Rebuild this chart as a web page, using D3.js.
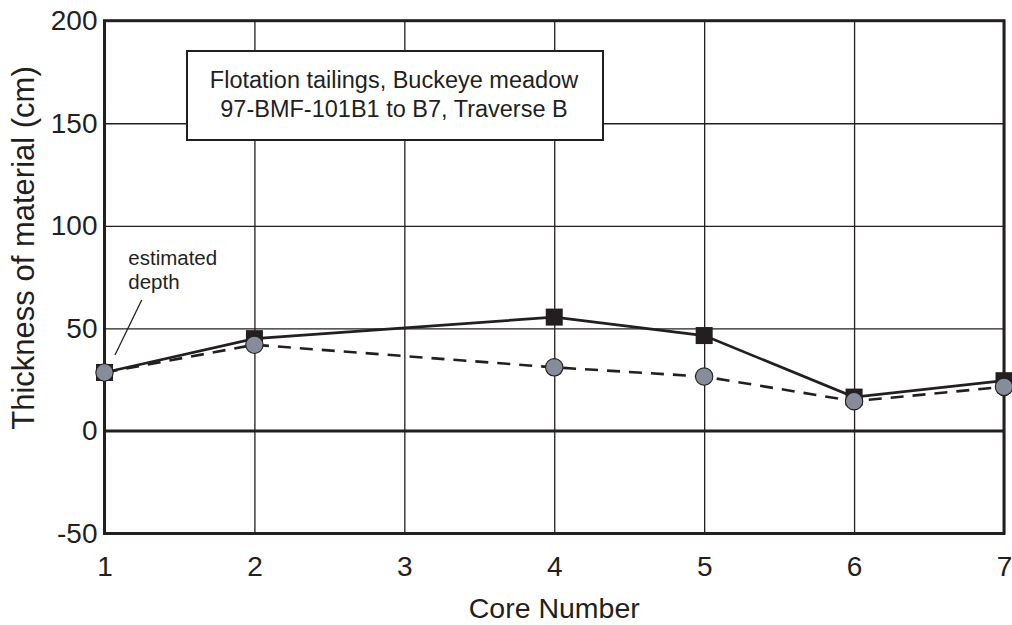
<!DOCTYPE html>
<html>
<head>
    <meta charset="utf-8">
    <title>Thickness of material - Traverse B</title>
    <script src="https://d3js.org/d3.v7.min.js"></script>
    <style>
        body {
            margin: 0;
            background: #fff;
        }
        svg {
            display: block;
            font-family: "Liberation Sans", Arial, sans-serif;
        }
    </style>
</head>
<body>
    <div id="chart"></div>

    <script>
        // core numbers (no core 3 sampled)
        const cores = [1, 2, 4, 5, 6, 7];
        // solid line, black squares
        const thicknessSquares = [28.5, 45, 55.5, 46.5, 16.5, 24.5];
        // dashed line, grey circles
        const thicknessCircles = [28.5, 42, 31, 26.5, 14.5, 21.5];

        const xTicks = [1, 2, 3, 4, 5, 6, 7];
        const yTicks = [-50, 0, 50, 100, 150, 200];

        const titleLines = ["Flotation tailings, Buckeye meadow", "97-BMF-101B1 to B7, Traverse B"];
        const noteLines = ["estimated", "depth"];

        const width = 1012, height = 625;
        const margin = {top: 20.7, right: 8, bottom: 91.5, left: 104.5};
        const ink = "#231f20";

        const svg = d3.select("#chart").append("svg")
            .attr("width", width)
            .attr("height", height);

        const x = d3.scaleLinear().domain([1, 7]).range([margin.left, width - margin.right]);
        const y = d3.scaleLinear().domain([-50, 200]).range([height - margin.bottom, margin.top]);

        const plotW = x.range()[1] - x.range()[0];
        const plotH = y.range()[0] - y.range()[1];

        // grid + tick labels through axes (plain hyphen for negatives, like the original)
        const yAxis = svg.append("g")
            .attr("transform", `translate(${margin.left},0)`)
            .call(d3.axisLeft(y).tickValues(yTicks).tickFormat(d => String(d))
                .tickSize(-plotW).tickPadding(7));

        const xAxis = svg.append("g")
            .attr("transform", `translate(0,${y(-50)})`)
            .call(d3.axisBottom(x).tickValues(xTicks).tickFormat(d => String(d))
                .tickSize(-plotH).tickPadding(23));

        [xAxis, yAxis].forEach(ax => {
            ax.select(".domain").remove();
            ax.selectAll(".tick line")
                .attr("stroke", ink)
                .attr("stroke-width", 1.3);
            ax.selectAll(".tick text")
                .attr("fill", ink)
                .attr("font-family", "'Liberation Sans', Arial, sans-serif")
                .attr("font-size", 28);
        });

        // zero line
        svg.append("line")
            .attr("x1", x(1)).attr("x2", x(7))
            .attr("y1", y(0)).attr("y2", y(0))
            .attr("stroke", ink)
            .attr("stroke-width", 3);

        // frame
        svg.append("rect")
            .attr("x", x(1)).attr("y", y(200))
            .attr("width", plotW).attr("height", plotH)
            .attr("fill", "none")
            .attr("stroke", ink)
            .attr("stroke-width", 3);

        // title box
        const box = svg.append("g");
        box.append("rect")
            .attr("x", 187).attr("y", 51)
            .attr("width", 416).attr("height", 89)
            .attr("fill", "#fff")
            .attr("stroke", ink)
            .attr("stroke-width", 2);
        box.selectAll("text")
            .data(titleLines)
            .join("text")
            .attr("x", 394)
            .attr("y", (d, i) => 88.3 + i * 28.4)
            .attr("text-anchor", "middle")
            .attr("font-size", 23.5)
            .attr("fill", ink)
            .text(d => d);

        // lines
        const line = d3.line()
            .x(d => x(d[0]))
            .y(d => y(d[1]));

        const solidData = cores.map((c, i) => [c, thicknessSquares[i]]);
        const dashedData = cores.map((c, i) => [c, thicknessCircles[i]]);

        svg.append("path")
            .datum(solidData)
            .attr("d", line)
            .attr("fill", "none")
            .attr("stroke", ink)
            .attr("stroke-width", 2.7);

        svg.append("path")
            .datum(dashedData)
            .attr("d", line)
            .attr("fill", "none")
            .attr("stroke", ink)
            .attr("stroke-width", 2.6)
            .attr("stroke-dasharray", "13,9");

        const sq = 17;
        svg.append("g").selectAll("rect")
            .data(solidData)
            .join("rect")
            .attr("x", d => x(d[0]) - sq / 2)
            .attr("y", d => y(d[1]) - sq / 2)
            .attr("width", sq)
            .attr("height", sq)
            .attr("fill", ink);

        svg.append("g").selectAll("circle")
            .data(dashedData)
            .join("circle")
            .attr("cx", d => x(d[0]))
            .attr("cy", d => y(d[1]))
            .attr("r", 8.7)
            .attr("fill", "#878c9a")
            .attr("stroke", ink)
            .attr("stroke-width", 1.1);

        // annotation
        svg.append("g").selectAll("text")
            .data(noteLines)
            .join("text")
            .attr("x", 128.3)
            .attr("y", (d, i) => 265 + i * 23.5)
            .attr("font-size", 20.5)
            .attr("fill", ink)
            .text(d => d);

        svg.append("line")
            .attr("x1", 141.7).attr("y1", 300)
            .attr("x2", 115).attr("y2", 355)
            .attr("stroke", ink)
            .attr("stroke-width", 1.3);

        // axis titles
        svg.append("text")
            .attr("x", (x(1) + x(7)) / 2)
            .attr("y", 618.3)
            .attr("text-anchor", "middle")
            .attr("font-size", 28.5)
            .attr("fill", ink)
            .text("Core Number");

        svg.append("text")
            .attr("transform", "translate(34,248) rotate(-90)")
            .attr("text-anchor", "middle")
            .attr("font-size", 31)
            .attr("fill", ink)
            .text("Thickness of material (cm)");
    </script>
</body>
</html>
